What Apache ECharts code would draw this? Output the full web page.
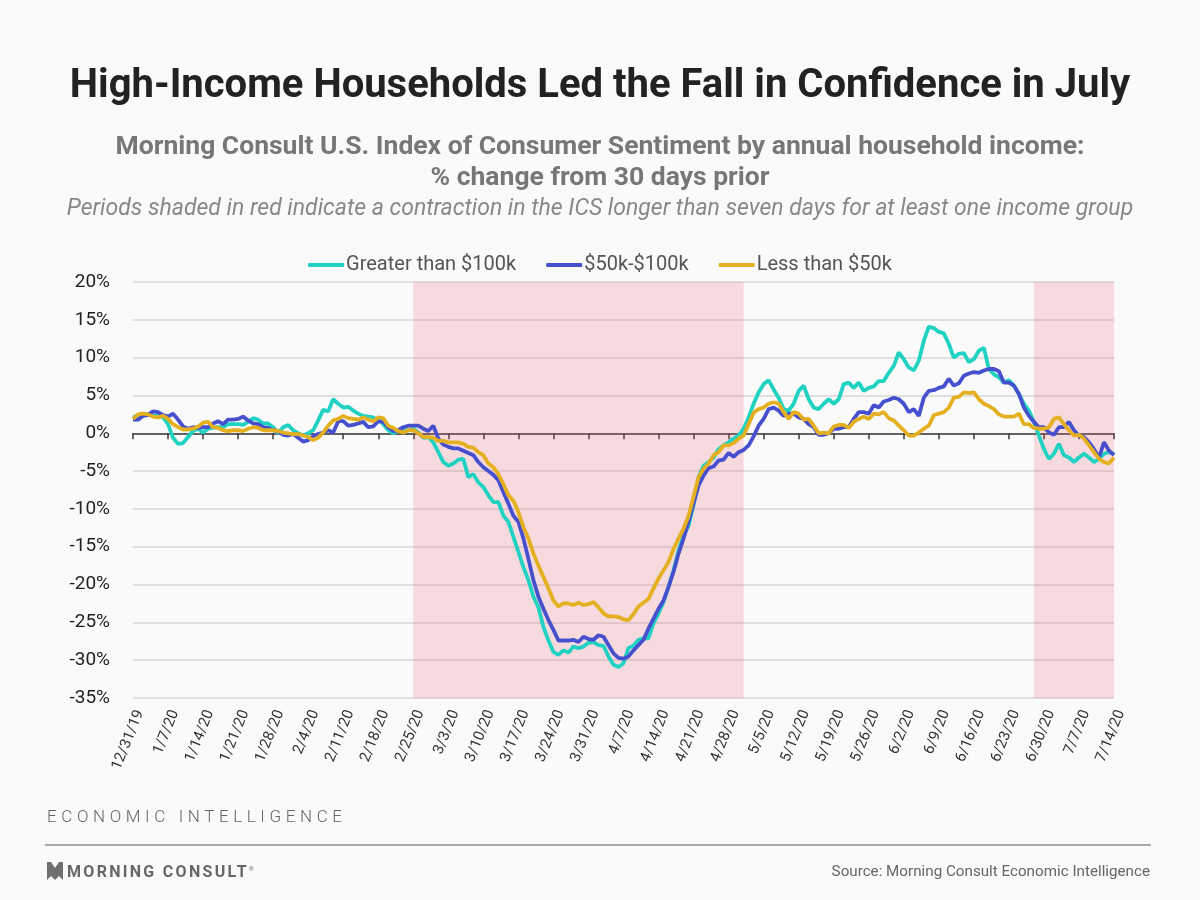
<!DOCTYPE html>
<html>
<head>
<meta charset="utf-8">
<title>High-Income Households Led the Fall in Confidence in July</title>
<script src="https://cdn.jsdelivr.net/npm/echarts@6/dist/echarts.min.js"></script>
<style>
  html, body { margin: 0; padding: 0; background: #fafafa; }
  #wrap { position: relative; width: 1200px; height: 900px; }
  #main { position: absolute; left: 0; top: 0; width: 1200px; height: 900px; }
  .foot { position: absolute; font-family: Roboto, sans-serif; color: #666; }
  #ei { left: 47px; top: 806px; font-size: 17px; letter-spacing: 4.6px; font-weight: 300; }
  #rule { left: 45px; top: 844px; width: 1106px; height: 0; border-top: 2px solid #a8a8a8; }
  #logo { left: 47px; top: 862px; font-size: 16px; font-weight: bold; letter-spacing: 2.3px; }
  #logo svg { vertical-align: -3px; margin-right: 4px; }
  #src { right: 50px; top: 862px; font-size: 15.2px; }
</style>
</head>
<body>
<div id="wrap">
  <div id="main"></div>
  <div class="foot" id="ei">ECONOMIC INTELLIGENCE</div>
  <div class="foot" id="rule"></div>
  <div class="foot" id="logo"><svg width="16" height="18" viewBox="0 0 16 18"><path d="M0 0 L4 0 L8 6 L12 0 L16 0 L16 18 L12 14 L8 18 L4 14 L0 18 Z" fill="#6f6f6f"/></svg>MORNING CONSULT<sup style="font-size:6px;font-weight:normal">&reg;</sup></div>
  <div class="foot" id="src">Source: Morning Consult Economic Intelligence</div>
</div>
<script>
// 数据：每天一个点，12/31/19 - 7/14/20
var seriesNames = ['Greater than $100k', '$50k-$100k', 'Less than $50k']

var highIncome = [
  2.3, 1.8, 2.4, 2.5, 2.4, 2.3, 2.1, 1.2, -0.6, -1.4, -1.3, -0.5, 0.3, 0.6,
  0.1, 0.6, 0.7, 0.8, 0.8, 1.2, 1.2, 1.2, 1.1, 1.5, 2.0, 1.8, 1.3, 1.3,
  0.8, 0.0, 0.8, 1.1, 0.4, 0.0, -0.3, 0.0, 0.4, 1.7, 3.1, 2.9, 4.5, 3.9,
  3.4, 3.5, 3.0, 2.6, 2.3, 2.2, 2.1, 1.8, 1.2, 0.4, 0.0, 0.4, 0.4, 0.4,
  0.6, 0.1, -0.6, -0.5, -1.2, -2.5, -3.8, -4.3, -4.0, -3.5, -3.4, -5.8, -5.4, -6.5,
  -7.1, -8.2, -9.1, -9.1, -10.9, -11.7, -13.7, -15.7, -17.7, -19.4, -21.6, -23.0, -25.6, -27.4,
  -28.9, -29.3, -28.7, -29.0, -28.2, -28.4, -28.2, -27.7, -27.6, -28.0, -28.1, -29.5, -30.6, -30.9,
  -30.4, -28.4, -28.1, -27.3, -27.1, -27.1, -25.1, -23.8, -22.3, -20.3, -18.1, -15.5, -13.5, -12.2,
  -9.5, -5.8, -4.3, -3.8, -3.2, -2.1, -1.6, -1.2, -0.7, -0.3, 0.6, 2.1, 3.9, 5.4,
  6.5, 7.0, 5.8, 4.7, 3.2, 3.0, 3.9, 5.6, 6.3, 4.5, 3.4, 3.2, 3.9, 4.5,
  3.9, 4.5, 6.5, 6.7, 6.0, 6.7, 5.6, 6.0, 6.2, 6.9, 6.9, 8.0, 8.9, 10.7,
  9.8, 8.7, 8.3, 9.6, 12.2, 14.1, 13.9, 13.4, 13.2, 11.8, 10.0, 10.5, 10.6, 9.4,
  9.8, 10.9, 11.3, 8.5, 7.8, 7.4, 6.7, 7.0, 6.3, 5.2, 3.9, 3.0, 1.5, -0.3,
  -2.1, -3.4, -2.7, -1.4, -2.9, -3.2, -3.8, -3.2, -2.7, -3.2, -3.8, -3.4, -2.7, -2.5,
  -2.7
]

var midIncome = [
  1.8, 1.8, 2.3, 2.4, 2.9, 2.8, 2.4, 2.2, 2.6, 1.8, 0.9, 0.6, 0.8, 0.7,
  0.8, 0.8, 1.3, 1.6, 1.2, 1.8, 1.8, 1.9, 2.2, 1.7, 1.3, 1.2, 0.8, 0.7,
  0.4, 0.3, -0.2, -0.3, -0.1, -0.6, -1.1, -0.9, -0.4, -0.1, 0.1, 0.4, 0.1, 1.6,
  1.6, 1.0, 1.1, 1.3, 1.5, 0.8, 0.9, 1.6, 1.5, 0.8, 0.3, 0.4, 0.8, 1.0,
  1.0, 1.0, 0.6, 0.3, 1.0, -0.7, -1.5, -1.8, -2.0, -2.0, -2.3, -2.6, -2.9, -3.8,
  -4.5, -5.0, -5.5, -6.2, -7.8, -9.3, -10.9, -11.7, -13.9, -16.6, -19.4, -21.6, -23.2, -24.7,
  -26.0, -27.4, -27.4, -27.4, -27.3, -27.6, -26.9, -27.2, -27.3, -26.7, -26.9, -28.0, -29.1, -29.7,
  -29.8, -29.5, -28.7, -28.0, -27.3, -25.8, -24.5, -23.2, -22.1, -20.3, -18.3, -15.9, -13.9, -11.7,
  -9.3, -6.9, -5.6, -4.6, -4.4, -3.6, -3.5, -2.6, -3.1, -2.5, -2.2, -1.6, -0.4, 1.0,
  1.9, 3.2, 3.4, 3.0, 2.3, 2.6, 2.6, 2.1, 1.9, 1.2, 0.8, -0.2, -0.2, 0.0,
  0.6, 0.6, 0.8, 0.8, 1.9, 2.8, 2.8, 2.6, 3.7, 3.4, 4.2, 4.4, 4.7, 4.5,
  3.9, 2.8, 3.2, 2.3, 4.7, 5.6, 5.7, 6.0, 6.2, 7.2, 6.3, 6.6, 7.6, 7.9,
  8.1, 8.0, 8.3, 8.5, 8.5, 8.2, 6.7, 6.7, 6.3, 5.2, 3.4, 2.3, 1.5, 0.8,
  0.8, 0.1, -0.2, 0.8, 0.8, 1.5, 0.4, -0.3, -0.5, -1.2, -2.1, -3.2, -1.2, -2.3,
  -2.9
]

var lowIncome = [
  1.9, 2.5, 2.6, 2.5, 2.2, 2.1, 2.3, 1.9, 1.2, 0.8, 0.5, 0.5, 0.6, 0.9,
  1.4, 1.5, 0.8, 0.7, 0.4, 0.3, 0.4, 0.4, 0.3, 0.6, 0.8, 0.7, 0.4, 0.4,
  0.4, 0.3, 0.1, 0.0, -0.1, -0.1, -0.3, -0.5, -0.9, -0.6, 0.1, 1.0, 1.7, 1.9,
  2.3, 2.0, 1.9, 1.8, 2.1, 1.8, 1.6, 2.1, 2.0, 1.0, 0.7, 0.3, 0.1, 0.4,
  0.4, 0.0, -0.5, -0.5, -0.6, -1.0, -1.0, -1.2, -1.2, -1.2, -1.4, -1.8, -1.9, -2.5,
  -2.9, -4.0, -4.5, -5.4, -6.7, -8.2, -8.9, -10.4, -12.4, -13.9, -15.9, -17.5, -19.0, -20.5,
  -22.1, -22.9, -22.5, -22.5, -22.7, -22.4, -22.7, -22.6, -22.3, -23.0, -23.8, -24.2, -24.2, -24.3,
  -24.6, -24.7, -23.9, -22.9, -22.4, -21.9, -20.5, -19.2, -18.1, -17.0, -15.3, -13.9, -12.6, -10.9,
  -8.4, -5.8, -4.7, -4.0, -2.9, -2.5, -1.6, -1.6, -1.3, -0.7, -0.3, 1.2, 2.7, 3.2,
  3.4, 3.9, 4.1, 3.9, 2.8, 1.9, 2.8, 2.6, 1.8, 1.9, 1.0, 0.0, 0.1, 0.0,
  0.9, 1.1, 1.1, 0.7, 1.5, 1.9, 2.2, 1.9, 2.6, 2.5, 2.8, 2.0, 1.7, 1.0,
  0.4, -0.3, -0.3, 0.1, 0.6, 1.0, 2.4, 2.6, 2.8, 3.4, 4.7, 4.8, 5.4, 5.3,
  5.4, 4.5, 3.9, 3.6, 3.2, 2.5, 2.2, 2.2, 2.2, 2.6, 1.2, 1.2, 0.7, 0.6,
  0.6, 0.8, 1.9, 2.1, 1.2, 0.4, -0.3, -0.2, -0.7, -1.6, -2.5, -3.4, -3.8, -4.0,
  -3.2
]

// 红色阴影区间（收缩期）：起止日期的下标
var shadeStart = [56, 180]
var shadeEnd = [122, 196]

// 日期类目 m/d/yy
var dates = []
var d0 = new Date(2019, 11, 31)
for (var i = 0; i < highIncome.length; i++) {
  var d = new Date(d0.getFullYear(), d0.getMonth(), d0.getDate() + i)
  dates.push((d.getMonth() + 1) + '/' + d.getDate() + '/' + String(d.getFullYear()).slice(2))
}

var shadeData = []
for (var k = 0; k < shadeStart.length; k++) {
  shadeData.push([{ xAxis: dates[shadeStart[k]] }, { xAxis: dates[shadeEnd[k]] }])
}

var colors = ['#1fd2c2', '#4650cf', '#e5b020']
var font = 'Roboto'

var myChart = echarts.init(document.getElementById('main'))

var option = {
  backgroundColor: '#fafafa',
  animation: false,
  color: colors,
  title: [{
      text: 'High-Income Households Led the Fall in Confidence in July',
      left: 'center',
      top: 62,
      textStyle: { fontFamily: font, fontSize: 40, fontWeight: 'bold', color: '#222' }
    },
    {
      text: 'Morning Consult U.S. Index of Consumer Sentiment by annual household income:',
      left: 'center',
      top: 129,
      textStyle: { fontFamily: font, fontSize: 26.5, fontWeight: 'bold', color: '#777' }
    },
    {
      text: '% change from 30 days prior',
      left: 'center',
      top: 160,
      textStyle: { fontFamily: font, fontSize: 26.5, fontWeight: 'bold', color: '#777' }
    },
    {
      text: 'Periods shaded in red indicate a contraction in the ICS longer than seven days for at least one income group',
      left: 'center',
      top: 193,
      textStyle: { fontFamily: font, fontSize: 23, fontStyle: 'italic', fontWeight: 'normal', color: '#888' }
    }
  ],
  legend: {
    data: seriesNames,
    top: 250,
    left: 'center',
    icon: 'roundRect',
    itemWidth: 36,
    itemHeight: 4,
    itemGap: 30,
    textStyle: { fontFamily: font, fontSize: 20, color: '#555', padding: [0, 0, 0, -3] }
  },
  grid: { left: 133, right: 86, top: 282, bottom: 202 },
  xAxis: [{
      // 0 线和刻度
      type: 'category',
      data: dates,
      boundaryGap: false,
      axisLine: { onZero: true, lineStyle: { color: '#3a3a3a', width: 1.5 } },
      axisTick: { interval: 6, length: 6, lineStyle: { color: '#3a3a3a', width: 1.5 } },
      axisLabel: { show: false },
      splitLine: { show: false }
    },
    {
      // 底部日期标签
      type: 'category',
      data: dates,
      boundaryGap: false,
      position: 'bottom',
      axisLine: { show: false, onZero: false },
      axisTick: { show: false },
      axisLabel: { interval: 6, rotate: 68, margin: 10, verticalAlign: 'top', fontFamily: font, fontSize: 15, color: '#333' },
      splitLine: { show: false }
    }
  ],
  yAxis: {
    type: 'value',
    min: -35,
    max: 20,
    interval: 5,
    axisLine: { show: false },
    axisTick: { show: false },
    axisLabel: { formatter: '{value}%', margin: 23, fontFamily: font, fontSize: 19, color: '#222' },
    splitLine: { lineStyle: { color: '#e0e0e0', width: 2 } }
  },
  series: [{
      name: seriesNames[0],
      type: 'line',
      data: highIncome,
      showSymbol: false,
      symbol: 'none',
      lineStyle: { width: 3.8, color: colors[0] },
      z: 2
    },
    {
      name: seriesNames[1],
      type: 'line',
      data: midIncome,
      showSymbol: false,
      symbol: 'none',
      lineStyle: { width: 3.8, color: colors[1] },
      z: 2
    },
    {
      name: seriesNames[2],
      type: 'line',
      data: lowIncome,
      showSymbol: false,
      symbol: 'none',
      lineStyle: { width: 3.8, color: colors[2] },
      z: 2
    },
    {
      // 阴影盖在线上面
      type: 'line',
      data: [],
      silent: true,
      z: 10,
      markArea: {
        silent: true,
        itemStyle: { color: 'rgba(236, 90, 105, 0.2)' },
        data: shadeData
      }
    }
  ]
}

myChart.setOption(option)
</script>
</body>
</html>
